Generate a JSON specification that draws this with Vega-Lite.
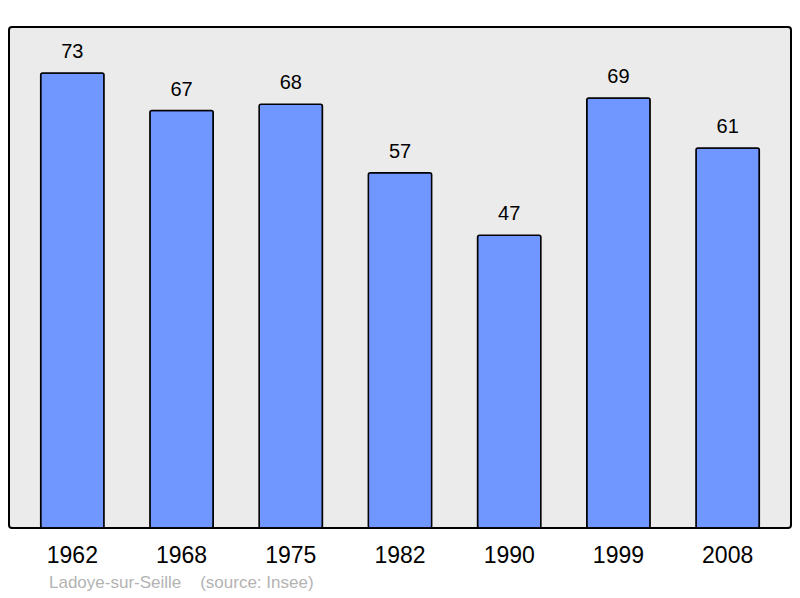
{
  "$schema": "https://vega.github.io/schema/vega-lite/v6.json",
  "width": 782,
  "height": 501,
  "autosize": {"type": "none"},
  "padding": {"left": 9, "top": 27, "right": 9, "bottom": 70},
  "background": "white",
  "config": {
    "font": "Liberation Sans",
    "view": {"fill": "#ebebeb", "stroke": "black", "strokeWidth": 2, "cornerRadius": 3}
  },
  "title": {
    "text": "Ladoye-sur-Seille\u00a0\u00a0\u00a0\u00a0(source: Insee)",
    "orient": "bottom",
    "anchor": "start",
    "dx": 40,
    "offset": 8,
    "fontSize": 17,
    "fontWeight": "normal",
    "color": "#b3b3b3",
    "font": "Liberation Sans"
  },
  "data": {
    "values": [
      {"year": "1962", "pop": 73},
      {"year": "1968", "pop": 67},
      {"year": "1975", "pop": 68},
      {"year": "1982", "pop": 57},
      {"year": "1990", "pop": 47},
      {"year": "1999", "pop": 69},
      {"year": "2008", "pop": 61}
    ]
  },
  "encoding": {
    "x": {
      "field": "year",
      "type": "ordinal",
      "scale": {"paddingInner": 0.42, "paddingOuter": 0.29},
      "axis": {
        "title": null,
        "domain": false,
        "ticks": false,
        "labelAngle": 0,
        "labelFontSize": 23,
        "labelColor": "black",
        "labelPadding": 16
      }
    },
    "y": {
      "field": "pop",
      "type": "quantitative",
      "scale": {"domain": [0, 80.4], "nice": false},
      "axis": null
    }
  },
  "layer": [
    {
      "mark": {"type": "bar", "color": "#7096ff", "stroke": "black", "strokeWidth": 1.5, "cornerRadius": 2}
    },
    {
      "mark": {"type": "text", "baseline": "bottom", "dy": -11, "fontSize": 20, "color": "black"},
      "encoding": {"text": {"field": "pop", "type": "quantitative"}}
    }
  ]
}
